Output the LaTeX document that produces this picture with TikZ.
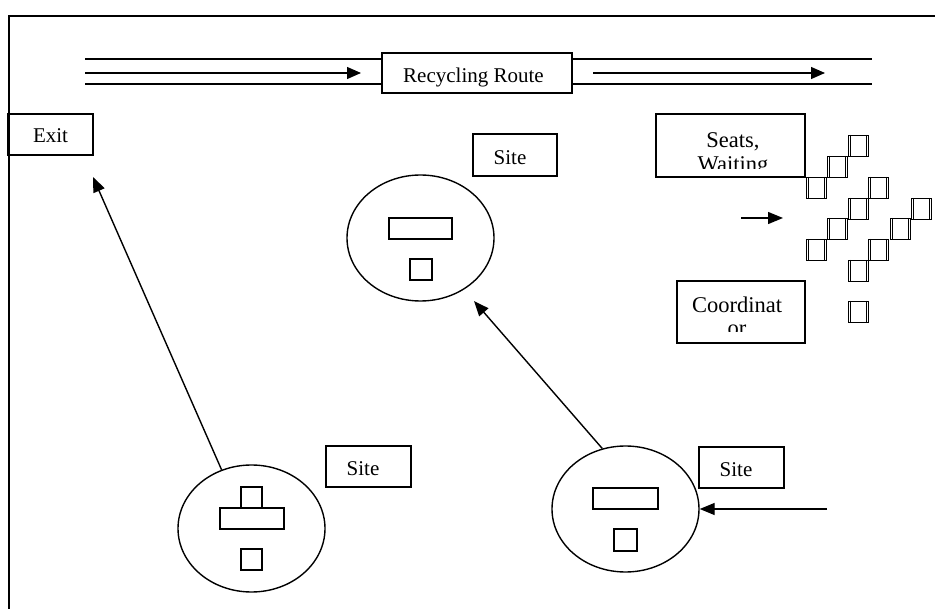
\documentclass[tikz,border=0pt]{standalone}
\usepackage{fontspec}
\setmainfont{Liberation Serif}
\usetikzlibrary{arrows.meta,shapes.geometric}
\begin{document}
\begin{tikzpicture}[x=1pt,y=-1pt,
  box/.style={draw, line width=1.4pt, rectangle, inner sep=0pt},
  oval/.style={draw, line width=1.4pt, ellipse, inner sep=0pt, minimum width=147pt, minimum height=126pt},
  txt/.style={font=\fontsize{21}{24}\selectfont, inner sep=0pt, anchor=base},
  txtb/.style={font=\fontsize{22.5}{24}\selectfont, inner sep=0pt, anchor=base},
  arr/.style={line width=1.4pt, -{Triangle[length=15pt,width=12pt]}},
  rarr/.style={line width=1.3pt, -{Triangle[length=14pt,width=12pt]}},
  thinln/.style={line width=1.2pt},
  thickln/.style={line width=2pt},
  sqr/.style={draw, line width=1.3pt, minimum width=20pt, minimum height=21pt, inner sep=0pt, anchor=north west},
  inner/.style={draw, line width=1.3pt},
]
\useasboundingbox (0,0) rectangle (935,609);
% frame
\draw[line width=1.5pt] (9,612) -- (9,16) -- (938,16);

% recycling route
\node[box, minimum width=190pt, minimum height=40pt] (route) at (477,73) {};
\node[txt] (routetxt) at (473.5,83) {Recycling Route};
\coordinate (la) at (85,73);
\coordinate (lb) at (361,73);
\coordinate (ra) at (593,73);
\coordinate (rb) at (825,73);
\draw[thinln] (85,59) -- (route.north west |- 0,59);
\draw[thickln] (85,84) -- (route.south west |- 0,84);
\draw[thinln] (route.north east |- 0,59) -- (872,59);
\draw[thickln] (route.south east |- 0,84) -- (872,84);
\draw[rarr] (la) -- (lb);
\draw[rarr] (ra) -- (rb);

% exit
\node[box, minimum width=85pt, minimum height=41pt] (exit) at (50.5,134.5) {};
\node[txt] (exittxt) at (50.5,143) {Exit};

% site boxes
\node[box, minimum width=84pt, minimum height=42pt] (sitem) at (515,155) {};
\node[txt] (sitemtxt) at (510,165) {Site};
\node[box, minimum width=85pt, minimum height=41pt] (sitebl) at (368.5,466.5) {};
\node[txt] (sitebltxt) at (363,476) {Site};
\node[box, minimum width=85pt, minimum height=41pt] (siter) at (741.5,467.5) {};
\node[txt] (sitertxt) at (736,477) {Site};

% ellipses
\node[oval] (e2) at (420.5,238) {};
\node[oval, minimum height=127pt] (e1) at (251.5,528.5) {};
\node[oval] (e3) at (625.5,509) {};

% inner shapes
\draw[inner] (389,218) rectangle (452,239);
\draw[inner] (410,259) rectangle (432,280);
\draw[inner] (241,487) rectangle (262,508);
\draw[inner] (220,508) rectangle (284,529);
\draw[inner] (241,549) rectangle (262,570);
\draw[inner] (593,488) rectangle (658,509);
\draw[inner] (614,529) rectangle (637,551);

% arrows
\coordinate (exitend) at (93,177);
\draw[arr] (e1.117) -- (exitend);
\coordinate (e2end) at (474,301);
\draw[arr] (e3.111) -- (e2end);
\coordinate (rightin) at (827,509);
\draw[arr] (rightin) -- (e3.east);

% seats, waiting
\node[box, minimum width=149pt, minimum height=63pt] (seats) at (730.5,145.5) {};
\begin{scope}
\clip (656,114) rectangle (805,169);
\node[txtb] (seatstxt) at (733,148) {Seats,};
\node[txtb] (waittxt) at (733,172) {Waiting};
\end{scope}

% coordinator
\node[box, minimum width=128pt, minimum height=62pt] (coord) at (741,312) {};
\begin{scope}
\clip (677,281) rectangle (805,332);
\node[txtb] (coordtxt) at (737,313) {Coordinat};
\node[txtb] (ortxt) at (737,336) {or};
\end{scope}

% small arrow
\coordinate (sa) at (741,218);
\coordinate (sb) at (783,218);
\draw[arr] (sa) -- (sb);

% seat squares
\foreach \i/\x/\y in {1/848/135, 2/827/156, 3/806/177, 4/868/177, 5/848/198, 6/911/198,
  7/827/218, 8/890/218, 9/806/239, 10/868/239, 11/848/260, 12/848/301} {
  \node[sqr] (q\i) at (\x,\y) {};
  \draw[line width=0.9pt] ([xshift=2.5pt]q\i.north west) -- ([xshift=2.5pt]q\i.south west);
  \draw[line width=0.9pt] ([xshift=-2.5pt]q\i.north east) -- ([xshift=-2.5pt]q\i.south east);
}
\end{tikzpicture}
\end{document}
